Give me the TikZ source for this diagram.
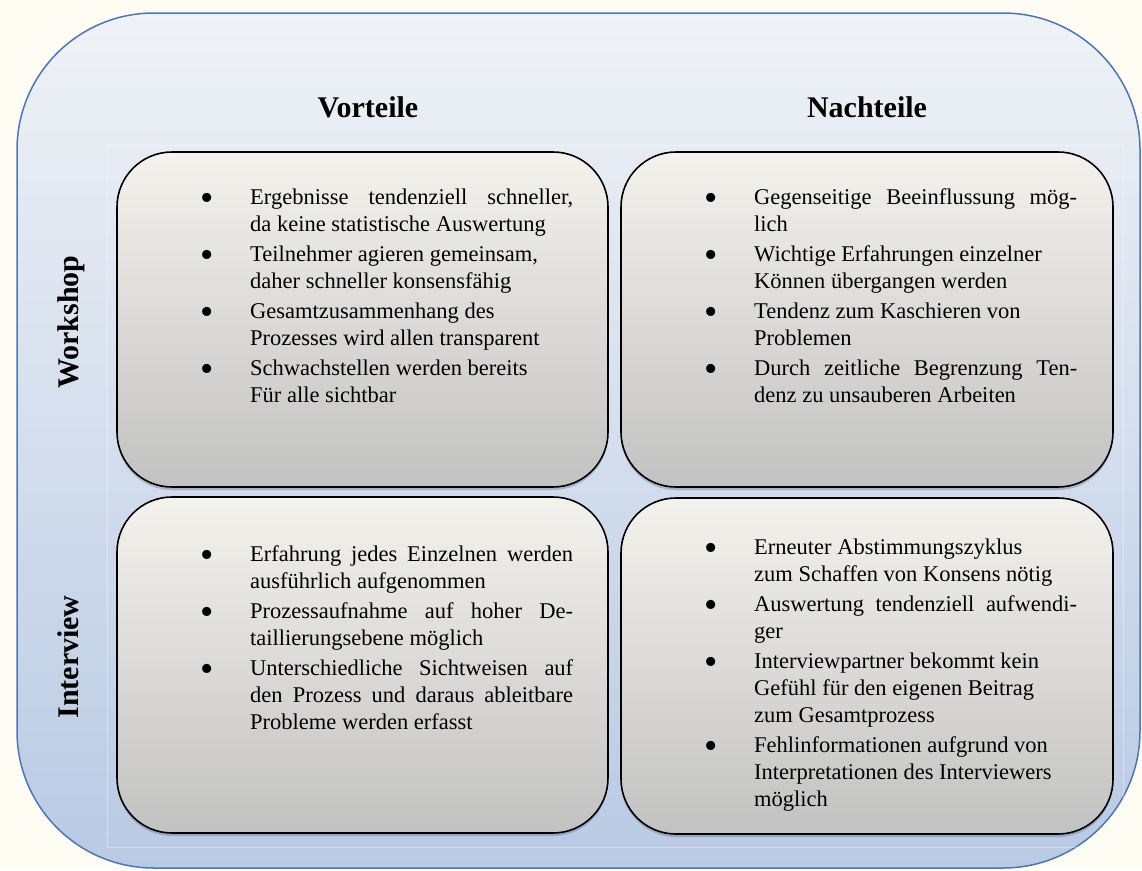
\documentclass[tikz,border=0pt]{standalone}
\usepackage{fontspec}
\setmainfont{Liberation Serif}
\usetikzlibrary{shadows}

\definecolor{cream}{HTML}{FFFDF3}
\definecolor{frameline}{HTML}{4A76BE}
\definecolor{frametop}{HTML}{EFF2F6}
\definecolor{framebot}{HTML}{B9CAE4}
\definecolor{cardtop}{HTML}{F4F2ED}
\definecolor{cardbot}{HTML}{C2C2C2}

% bullet placed in the left margin of each list item
\newcommand\bulletmark{\llap{\raisebox{-6pt}{\fontsize{38}{27}\selectfont\textbullet}\hspace{36.4pt}}}
\newcommand\pitem{\par\noindent\strut\bulletmark}

\begin{document}
\begin{tikzpicture}[x=1pt,y=-1pt,
  frame/.style={draw=frameline, line width=1.5pt, rounded corners=137pt,
    top color=frametop, bottom color=framebot,
    minimum width=1123pt, minimum height=855pt, inner sep=0pt},
  card/.style={draw=black, line width=1.6pt, rounded corners=55pt,
    top color=cardtop, bottom color=cardbot, inner sep=0pt,
    drop shadow={shadow xshift=0pt, shadow yshift=-3pt, opacity=0.25, fill=frameline!50!black}},
  hdr/.style={anchor=base, inner sep=0pt, font=\fontsize{30}{36}\selectfont\bfseries},
  rowlbl/.style={hdr, rotate=90},
  items/.style={anchor=north west, inner sep=0pt, text width=323pt, align=justify,
    font=\fontsize{22.5}{27}\selectfont,
    execute at begin node={\setlength\parskip{3pt}\setlength\parindent{0pt}\tolerance=10000\hyphenpenalty=10000}}
]
\fill[cream] (0,0) rectangle (1142,870);
\useasboundingbox (0,0) rectangle (1142,870);

% outer frame and the faint table outline inside it
\node[frame] (frame) at (578.5,440.5) {};
\draw[white, opacity=0.35, line width=0.8pt] (107,145) rectangle (1123,847);

% column and row headings
\node[hdr] (vorteile) at (368,117) {Vorteile};
\node[hdr] (nachteile) at (867,117) {Nachteile};
\node[rowlbl] (workshop) at (78,322) {Workshop};
\node[rowlbl] (interview) at (78,657) {Interview};

% the four cards
\node[card, minimum width=491pt, minimum height=335pt] (tl) at (362.5,319.5) {};
\node[card, minimum width=492pt, minimum height=335pt] (tr) at (867,319.5) {};
\node[card, minimum width=491pt, minimum height=336pt] (bl) at (362.5,665) {};
\node[card, minimum width=492pt, minimum height=336pt] (br) at (867,666) {};

% card contents
\node[items] (tltext) at (250,174) {%
\pitem Ergebnisse tendenziell schneller,\linebreak da keine statistische Auswertung
\pitem Teilnehmer agieren gemeinsam,\newline daher schneller konsensfähig
\pitem Gesamtzusammenhang des\newline Prozesses wird allen transparent
\pitem Schwachstellen werden bereits\newline Für alle sichtbar\par};

\node[items] (trtext) at (754,174) {%
\pitem Gegenseitige Beeinflussung mög-\linebreak lich
\pitem Wichtige Erfahrungen einzelner\newline Können übergangen werden
\pitem Tendenz zum Kaschieren von\newline Problemen
\pitem Durch zeitliche Begrenzung Ten-\linebreak denz zu unsauberen Arbeiten\par};

\node[items] (bltext) at (250,531) {%
\pitem Erfahrung jedes Einzelnen werden\linebreak ausführlich aufgenommen
\pitem Prozessaufnahme auf hoher De-\linebreak taillierungsebene möglich
\pitem Unterschiedliche Sichtweisen auf\linebreak den Prozess und daraus ableitbare\linebreak Probleme werden erfasst\par};

\node[items] (brtext) at (754,524) {%
\pitem Erneuter Abstimmungszyklus\newline zum Schaffen von Konsens nötig
\pitem Auswertung tendenziell aufwendi-\linebreak ger
\pitem Interviewpartner bekommt kein\newline Gefühl für den eigenen Beitrag\newline zum Gesamtprozess
\pitem Fehlinformationen aufgrund von\newline Interpretationen des Interviewers\newline möglich\par};
\end{tikzpicture}
\end{document}
